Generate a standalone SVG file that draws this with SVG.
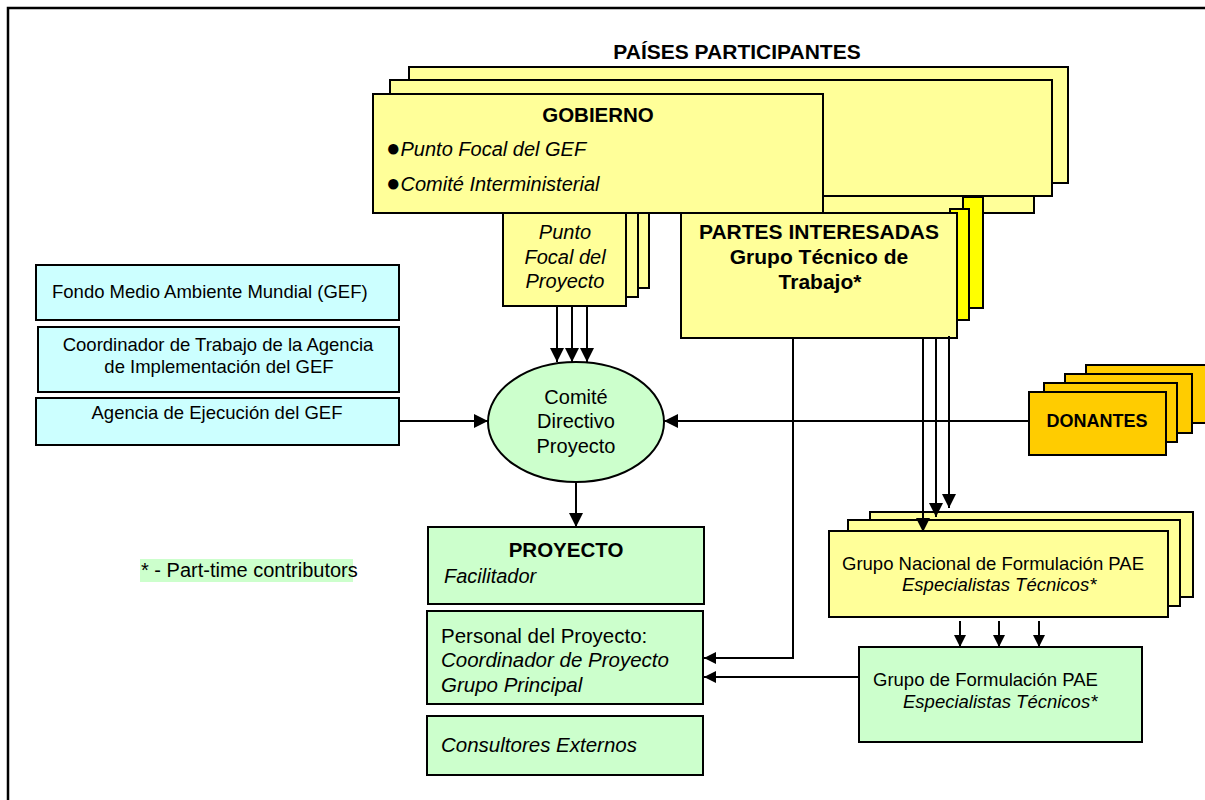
<svg xmlns="http://www.w3.org/2000/svg" width="1205" height="800" viewBox="0 0 1205 800">
<style>
.b{stroke:#000;stroke-width:2}
.ly{fill:#FFFF99}
.by{fill:#FFFF00}
.or{fill:#FFCC00}
.cy{fill:#CCFFFF}
.gr{fill:#CCFFCC}
text{font-family:"Liberation Sans",Arial,sans-serif;fill:#000}
.bold{font-weight:bold}
.it{font-style:italic}
.c{text-anchor:middle}
.ln{stroke:#000;stroke-width:2;fill:none}
</style>
<defs>
<marker id="ah" markerUnits="userSpaceOnUse" markerWidth="16" markerHeight="16" refX="14" refY="7" orient="auto">
<path d="M0,0 L14,7 L0,14 Z" fill="#000"/>
</marker>
<marker id="ahs" markerUnits="userSpaceOnUse" markerWidth="14" markerHeight="14" refX="12" refY="6" orient="auto">
<path d="M0,0 L12,6 L0,12 Z" fill="#000"/>
</marker>
</defs>
<rect width="1205" height="800" fill="#fff"/>
<path d="M8,800 V8 H1205" fill="none" stroke="#000" stroke-width="2.5"/>

<g id="paises">
<text x="737" y="59" class="bold c" font-size="21">PAÍSES PARTICIPANTES</text>
<rect x="373" y="94" width="661" height="119" class="b ly"/>
<rect x="409" y="67" width="659" height="116" class="b ly"/>
<rect x="390" y="80" width="662" height="116" class="b ly"/>
</g>

<g id="punto-focal-proyecto">
<rect x="527" y="200" width="122" height="88" class="b ly"/>
<rect x="515" y="200" width="123" height="97" class="b ly"/>
<rect x="503" y="200" width="123" height="106" class="b ly"/>
<text x="565" y="239" class="it c" font-size="20">Punto</text>
<text x="565" y="264" class="it c" font-size="20">Focal del</text>
<text x="565" y="288" class="it c" font-size="20">Proyecto</text>
</g>

<g id="gobierno">
<rect x="373" y="94" width="450" height="119" class="b ly"/>
<text x="598" y="122" class="bold c" font-size="20.5">GOBIERNO</text>
<text x="386" y="156" font-size="20"><tspan font-size="24">●</tspan><tspan class="it">Punto Focal del GEF</tspan></text>
<text x="386" y="191" font-size="20"><tspan font-size="24">●</tspan><tspan class="it">Comité Interministerial</tspan></text>
</g>

<g id="partes">
<rect x="963" y="197" width="20" height="111" class="b by"/>
<rect x="950" y="209" width="19" height="111" class="b by"/>
<rect x="681" y="213" width="276" height="125" class="b ly"/>
<text x="819" y="239" class="bold c" font-size="21">PARTES INTERESADAS</text>
<text x="819" y="264" class="bold c" font-size="21">Grupo Técnico de</text>
<text x="820" y="289" class="bold c" font-size="21">Trabajo*</text>
</g>

<g id="gef">
<rect x="36" y="265" width="363" height="55" class="b cy"/>
<text x="52" y="298" font-size="18.5">Fondo Medio Ambiente Mundial (GEF)</text>
</g>
<g id="coordinador-agencia">
<rect x="38" y="327" width="361" height="65" class="b cy"/>
<text x="218" y="351" class="c" font-size="18.5">Coordinador de Trabajo de la Agencia</text>
<text x="219" y="373" class="c" font-size="18.5">de Implementación del GEF</text>
</g>
<g id="agencia-ejecucion">
<rect x="36" y="398" width="363" height="47" class="b cy"/>
<text x="217" y="419" class="c" font-size="18.5">Agencia de Ejecución del GEF</text>
</g>

<g id="comite">
<ellipse cx="576" cy="422" rx="88" ry="60" class="b gr"/>
<text x="576" y="404" class="c" font-size="20">Comité</text>
<text x="576" y="428" class="c" font-size="20">Directivo</text>
<text x="576" y="453" class="c" font-size="20">Proyecto</text>
</g>

<g id="donantes">
<rect x="1086" y="365" width="125" height="58" class="b or"/>
<rect x="1065" y="374" width="127" height="59" class="b or"/>
<rect x="1044" y="383" width="133" height="59" class="b or"/>
<rect x="1029" y="392" width="137" height="63" class="b or"/>
<text x="1097" y="427" class="bold c" font-size="18">DONANTES</text>
</g>

<g id="proyecto">
<rect x="428" y="527" width="276" height="77" class="b gr"/>
<text x="566" y="557" class="bold c" font-size="20.5">PROYECTO</text>
<text x="444" y="583" class="it" font-size="20">Facilitador</text>
</g>
<g id="personal">
<rect x="427" y="611" width="276" height="93" class="b gr"/>
<text x="441" y="643" font-size="20.5">Personal del Proyecto:</text>
<text x="441" y="667" class="it" font-size="20.5">Coordinador de Proyecto</text>
<text x="441" y="692" class="it" font-size="20.5">Grupo Principal</text>
</g>
<g id="consultores">
<rect x="427" y="716" width="276" height="59" class="b gr"/>
<text x="441" y="752" class="it" font-size="20.5">Consultores Externos</text>
</g>

<g id="grupo-nacional">
<rect x="870" y="512" width="323" height="85" class="b ly"/>
<rect x="848" y="520" width="332" height="86" class="b ly"/>
<rect x="829" y="531" width="339" height="86" class="b ly"/>
<text x="842" y="570" font-size="18.5">Grupo Nacional de Formulación PAE</text>
<text x="902" y="591" class="it" font-size="18.5">Especialistas Técnicos*</text>
</g>

<g id="grupo-formulacion">
<rect x="859" y="647" width="283" height="95" class="b gr"/>
<text x="873" y="686" font-size="18.5">Grupo de Formulación PAE</text>
<text x="903" y="708" class="it" font-size="18.5">Especialistas Técnicos*</text>
</g>

<g id="nota">
<rect x="140" y="559" width="213" height="23" fill="#CCFFCC"/>
<text x="141" y="577" font-family="'Liberation Serif','Times New Roman',serif" font-size="20">* - Part-time contributors</text>
</g>

<g id="connectors">
<line x1="557" y1="306" x2="557" y2="362" class="ln" marker-end="url(#ah)"/>
<line x1="572" y1="306" x2="572" y2="362" class="ln" marker-end="url(#ah)"/>
<line x1="587" y1="306" x2="587" y2="362" class="ln" marker-end="url(#ah)"/>
<line x1="399" y1="421" x2="488" y2="421" class="ln" marker-end="url(#ah)"/>
<line x1="1029" y1="421" x2="664" y2="421" class="ln" marker-end="url(#ah)"/>
<line x1="576" y1="482" x2="576" y2="527" class="ln" marker-end="url(#ah)"/>
<line x1="923" y1="338" x2="923" y2="532" class="ln" marker-end="url(#ah)"/>
<line x1="936" y1="338" x2="936" y2="517" class="ln" marker-end="url(#ah)"/>
<line x1="949" y1="336" x2="949" y2="508" class="ln" marker-end="url(#ah)"/>
<polyline points="793,338 793,658 704,658" class="ln" marker-end="url(#ahs)"/>
<line x1="859" y1="677" x2="704" y2="677" class="ln" marker-end="url(#ahs)"/>
<line x1="960" y1="621" x2="960" y2="647" class="ln" marker-end="url(#ahs)"/>
<line x1="999" y1="621" x2="999" y2="647" class="ln" marker-end="url(#ahs)"/>
<line x1="1039" y1="621" x2="1039" y2="647" class="ln" marker-end="url(#ahs)"/>
</g>
</svg>
